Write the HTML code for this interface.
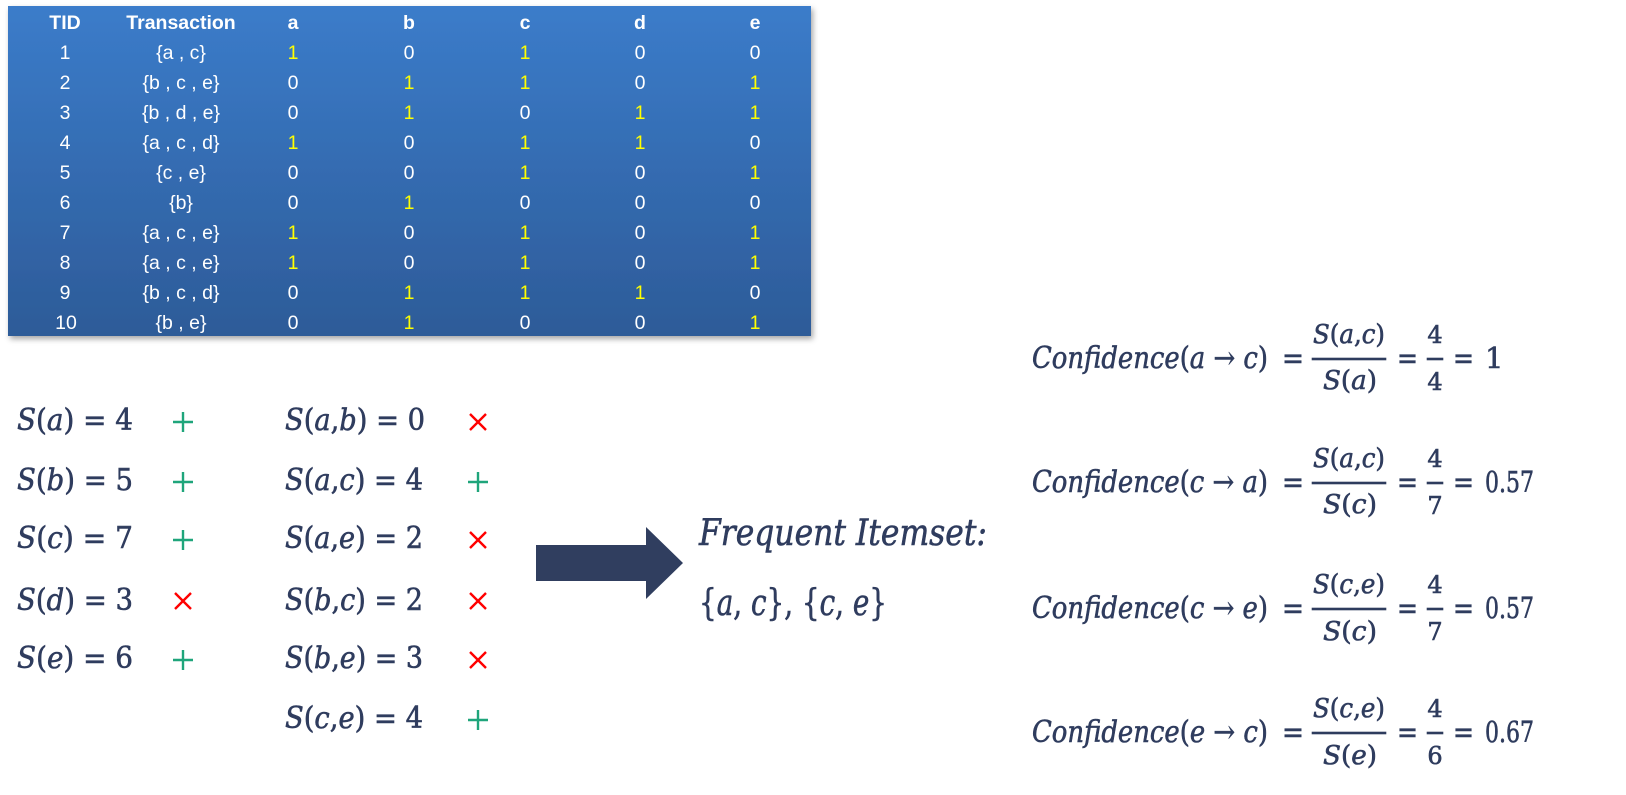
<!DOCTYPE html>
<html><head><meta charset="utf-8">
<style>
html,body{margin:0;padding:0;background:#fff;}
svg{display:block;}
.t{font-family:"Liberation Sans",Arial,sans-serif;font-size:19.5px;text-anchor:middle;}
.h{font-weight:bold;fill:#fff;}
.w{fill:#fff;}
.y{fill:#ffff00;}
.m{font-family:"DejaVu Serif","Liberation Serif",serif;fill:#2f3c5e;stroke:#2f3c5e;stroke-width:0.6;}
.i{font-style:italic;}
</style></head>
<body>
<svg width="1626" height="795" viewBox="0 0 1626 795" xmlns="http://www.w3.org/2000/svg">
<defs>
<linearGradient id="g" x1="0" y1="0" x2="0" y2="1">
<stop offset="0" stop-color="#3b7cca"/>
<stop offset="1" stop-color="#2d5b98"/>
</linearGradient>
<filter id="sh" x="-5%" y="-5%" width="110%" height="115%">
<feDropShadow dx="2" dy="3" stdDeviation="3" flood-color="#000" flood-opacity="0.35"/>
</filter>
</defs>

<!-- Table -->
<rect x="8" y="6" width="803" height="330" fill="url(#g)" filter="url(#sh)"/>
<g class="t">
<text class="h" x="65" y="29">TID</text>
<text class="h" x="181" y="29">Transaction</text>
<text class="h" x="293" y="29">a</text>
<text class="h" x="409" y="29">b</text>
<text class="h" x="525" y="29">c</text>
<text class="h" x="640" y="29">d</text>
<text class="h" x="755" y="29">e</text>

<text class="w" x="65" y="59">1</text><text class="w" x="181" y="59">{a , c}</text>
<text class="y" x="293" y="59">1</text><text class="w" x="409" y="59">0</text><text class="y" x="525" y="59">1</text><text class="w" x="640" y="59">0</text><text class="w" x="755" y="59">0</text>
<text class="w" x="65" y="89">2</text><text class="w" x="181" y="89">{b , c , e}</text>
<text class="w" x="293" y="89">0</text><text class="y" x="409" y="89">1</text><text class="y" x="525" y="89">1</text><text class="w" x="640" y="89">0</text><text class="y" x="755" y="89">1</text>
<text class="w" x="65" y="119">3</text><text class="w" x="181" y="119">{b , d , e}</text>
<text class="w" x="293" y="119">0</text><text class="y" x="409" y="119">1</text><text class="w" x="525" y="119">0</text><text class="y" x="640" y="119">1</text><text class="y" x="755" y="119">1</text>
<text class="w" x="65" y="149">4</text><text class="w" x="181" y="149">{a , c , d}</text>
<text class="y" x="293" y="149">1</text><text class="w" x="409" y="149">0</text><text class="y" x="525" y="149">1</text><text class="y" x="640" y="149">1</text><text class="w" x="755" y="149">0</text>
<text class="w" x="65" y="179">5</text><text class="w" x="181" y="179">{c , e}</text>
<text class="w" x="293" y="179">0</text><text class="w" x="409" y="179">0</text><text class="y" x="525" y="179">1</text><text class="w" x="640" y="179">0</text><text class="y" x="755" y="179">1</text>
<text class="w" x="65" y="209">6</text><text class="w" x="181" y="209">{b}</text>
<text class="w" x="293" y="209">0</text><text class="y" x="409" y="209">1</text><text class="w" x="525" y="209">0</text><text class="w" x="640" y="209">0</text><text class="w" x="755" y="209">0</text>
<text class="w" x="65" y="239">7</text><text class="w" x="181" y="239">{a , c , e}</text>
<text class="y" x="293" y="239">1</text><text class="w" x="409" y="239">0</text><text class="y" x="525" y="239">1</text><text class="w" x="640" y="239">0</text><text class="y" x="755" y="239">1</text>
<text class="w" x="65" y="269">8</text><text class="w" x="181" y="269">{a , c , e}</text>
<text class="y" x="293" y="269">1</text><text class="w" x="409" y="269">0</text><text class="y" x="525" y="269">1</text><text class="w" x="640" y="269">0</text><text class="y" x="755" y="269">1</text>
<text class="w" x="65" y="299">9</text><text class="w" x="181" y="299">{b , c , d}</text>
<text class="w" x="293" y="299">0</text><text class="y" x="409" y="299">1</text><text class="y" x="525" y="299">1</text><text class="y" x="640" y="299">1</text><text class="w" x="755" y="299">0</text>
<text class="w" x="66" y="329">10</text><text class="w" x="181" y="329">{b , e}</text>
<text class="w" x="293" y="329">0</text><text class="y" x="409" y="329">1</text><text class="w" x="525" y="329">0</text><text class="w" x="640" y="329">0</text><text class="y" x="755" y="329">1</text>
</g>

<!-- Left column supports -->
<g class="m" font-size="30">
<text x="17" y="430" textLength="116" lengthAdjust="spacingAndGlyphs"><tspan class="i">S</tspan>(<tspan class="i">a</tspan>) = 4</text>
<text x="17" y="490" textLength="116" lengthAdjust="spacingAndGlyphs"><tspan class="i">S</tspan>(<tspan class="i">b</tspan>) = 5</text>
<text x="17" y="548" textLength="116" lengthAdjust="spacingAndGlyphs"><tspan class="i">S</tspan>(<tspan class="i">c</tspan>) = 7</text>
<text x="17" y="610" textLength="116" lengthAdjust="spacingAndGlyphs"><tspan class="i">S</tspan>(<tspan class="i">d</tspan>) = 3</text>
<text x="17" y="668" textLength="116" lengthAdjust="spacingAndGlyphs"><tspan class="i">S</tspan>(<tspan class="i">e</tspan>) = 6</text>

<text x="285" y="430" textLength="140" lengthAdjust="spacingAndGlyphs"><tspan class="i">S</tspan>(<tspan class="i">a</tspan>,<tspan class="i">b</tspan>) = 0</text>
<text x="285" y="490" textLength="138" lengthAdjust="spacingAndGlyphs"><tspan class="i">S</tspan>(<tspan class="i">a</tspan>,<tspan class="i">c</tspan>) = 4</text>
<text x="285" y="548" textLength="138" lengthAdjust="spacingAndGlyphs"><tspan class="i">S</tspan>(<tspan class="i">a</tspan>,<tspan class="i">e</tspan>) = 2</text>
<text x="285" y="610" textLength="138" lengthAdjust="spacingAndGlyphs"><tspan class="i">S</tspan>(<tspan class="i">b</tspan>,<tspan class="i">c</tspan>) = 2</text>
<text x="285" y="668" textLength="138" lengthAdjust="spacingAndGlyphs"><tspan class="i">S</tspan>(<tspan class="i">b</tspan>,<tspan class="i">e</tspan>) = 3</text>
<text x="285" y="728" textLength="138" lengthAdjust="spacingAndGlyphs"><tspan class="i">S</tspan>(<tspan class="i">c</tspan>,<tspan class="i">e</tspan>) = 4</text>
</g>

<!-- marks -->
<g stroke-width="2.4" fill="none">
<g stroke="#1fa57b">
<path d="M173 422H193M183 412V432"/>
<path d="M173 482H193M183 472V492"/>
<path d="M173 540H193M183 530V550"/>
<path d="M173 660H193M183 650V670"/>
<path d="M468 482H488M478 472V492"/>
<path d="M468 720H488M478 710V730"/>
</g>
<g stroke="#ff0000">
<path d="M175 593L191 609M191 593L175 609"/>
<path d="M470 414L486 430M486 414L470 430"/>
<path d="M470 532L486 548M486 532L470 548"/>
<path d="M470 593L486 609M486 593L470 609"/>
<path d="M470 652L486 668M486 652L470 668"/>
</g>
</g>

<!-- Big arrow -->
<polygon points="536,545 646,545 646,527 683,563 646,599 646,581 536,581" fill="#303e5f"/>

<!-- Frequent itemset -->
<g class="m" font-size="36">
<text x="699" y="545" class="i" textLength="288" lengthAdjust="spacingAndGlyphs">Frequent Itemset:</text>
<text x="699" y="615" textLength="188" lengthAdjust="spacingAndGlyphs">{<tspan class="i">a</tspan>, <tspan class="i">c</tspan>}, {<tspan class="i">c</tspan>, <tspan class="i">e</tspan>}</text>
</g>

<!-- Confidence rows -->
<g class="m">
<!-- Row 1 -->
<text x="1032" y="368" font-size="30" textLength="236" lengthAdjust="spacingAndGlyphs"><tspan class="i">Confidence</tspan>(<tspan class="i">a</tspan> → <tspan class="i">c</tspan>)</text>
<text x="1282" y="368" font-size="30" textLength="22" lengthAdjust="spacingAndGlyphs">=</text>
<rect x="1312" y="358" width="74" height="2"/>
<text x="1349" y="343" font-size="26" text-anchor="middle" textLength="72" lengthAdjust="spacingAndGlyphs"><tspan class="i">S</tspan>(<tspan class="i">a</tspan>,<tspan class="i">c</tspan>)</text>
<text x="1350" y="389" font-size="26" text-anchor="middle" textLength="54" lengthAdjust="spacingAndGlyphs"><tspan class="i">S</tspan>(<tspan class="i">a</tspan>)</text>
<text x="1397" y="368" font-size="30" textLength="21" lengthAdjust="spacingAndGlyphs">=</text>
<rect x="1427" y="358" width="16" height="2"/>
<text x="1435" y="343" font-size="24" text-anchor="middle">4</text>
<text x="1435" y="390" font-size="24" text-anchor="middle">4</text>
<text x="1453" y="368" font-size="30" textLength="21" lengthAdjust="spacingAndGlyphs">=</text>
<text x="1485" y="368" font-size="29">1</text>

<!-- Row 2 -->
<text x="1032" y="492" font-size="30" textLength="236" lengthAdjust="spacingAndGlyphs"><tspan class="i">Confidence</tspan>(<tspan class="i">c</tspan> → <tspan class="i">a</tspan>)</text>
<text x="1282" y="492" font-size="30" textLength="22" lengthAdjust="spacingAndGlyphs">=</text>
<rect x="1312" y="482" width="74" height="2"/>
<text x="1349" y="467" font-size="26" text-anchor="middle" textLength="72" lengthAdjust="spacingAndGlyphs"><tspan class="i">S</tspan>(<tspan class="i">a</tspan>,<tspan class="i">c</tspan>)</text>
<text x="1350" y="513" font-size="26" text-anchor="middle" textLength="54" lengthAdjust="spacingAndGlyphs"><tspan class="i">S</tspan>(<tspan class="i">c</tspan>)</text>
<text x="1397" y="492" font-size="30" textLength="21" lengthAdjust="spacingAndGlyphs">=</text>
<rect x="1427" y="482" width="16" height="2"/>
<text x="1435" y="467" font-size="24" text-anchor="middle">4</text>
<text x="1435" y="514" font-size="24" text-anchor="middle">7</text>
<text x="1453" y="492" font-size="30" textLength="21" lengthAdjust="spacingAndGlyphs">=</text>
<text x="1485" y="492" font-size="29" textLength="49" lengthAdjust="spacingAndGlyphs">0.57</text>

<!-- Row 3 -->
<text x="1032" y="618" font-size="30" textLength="236" lengthAdjust="spacingAndGlyphs"><tspan class="i">Confidence</tspan>(<tspan class="i">c</tspan> → <tspan class="i">e</tspan>)</text>
<text x="1282" y="618" font-size="30" textLength="22" lengthAdjust="spacingAndGlyphs">=</text>
<rect x="1312" y="608" width="74" height="2"/>
<text x="1349" y="593" font-size="26" text-anchor="middle" textLength="72" lengthAdjust="spacingAndGlyphs"><tspan class="i">S</tspan>(<tspan class="i">c</tspan>,<tspan class="i">e</tspan>)</text>
<text x="1350" y="640" font-size="26" text-anchor="middle" textLength="54" lengthAdjust="spacingAndGlyphs"><tspan class="i">S</tspan>(<tspan class="i">c</tspan>)</text>
<text x="1397" y="618" font-size="30" textLength="21" lengthAdjust="spacingAndGlyphs">=</text>
<rect x="1427" y="608" width="16" height="2"/>
<text x="1435" y="593" font-size="24" text-anchor="middle">4</text>
<text x="1435" y="640" font-size="24" text-anchor="middle">7</text>
<text x="1453" y="618" font-size="30" textLength="21" lengthAdjust="spacingAndGlyphs">=</text>
<text x="1485" y="618" font-size="29" textLength="49" lengthAdjust="spacingAndGlyphs">0.57</text>

<!-- Row 4 -->
<text x="1032" y="742" font-size="30" textLength="236" lengthAdjust="spacingAndGlyphs"><tspan class="i">Confidence</tspan>(<tspan class="i">e</tspan> → <tspan class="i">c</tspan>)</text>
<text x="1282" y="742" font-size="30" textLength="22" lengthAdjust="spacingAndGlyphs">=</text>
<rect x="1312" y="732" width="74" height="2"/>
<text x="1349" y="717" font-size="26" text-anchor="middle" textLength="72" lengthAdjust="spacingAndGlyphs"><tspan class="i">S</tspan>(<tspan class="i">c</tspan>,<tspan class="i">e</tspan>)</text>
<text x="1350" y="764" font-size="26" text-anchor="middle" textLength="54" lengthAdjust="spacingAndGlyphs"><tspan class="i">S</tspan>(<tspan class="i">e</tspan>)</text>
<text x="1397" y="742" font-size="30" textLength="21" lengthAdjust="spacingAndGlyphs">=</text>
<rect x="1427" y="732" width="16" height="2"/>
<text x="1435" y="717" font-size="24" text-anchor="middle">4</text>
<text x="1435" y="764" font-size="24" text-anchor="middle">6</text>
<text x="1453" y="742" font-size="30" textLength="21" lengthAdjust="spacingAndGlyphs">=</text>
<text x="1485" y="742" font-size="29" textLength="49" lengthAdjust="spacingAndGlyphs">0.67</text>
</g>
</svg>
</body></html>
